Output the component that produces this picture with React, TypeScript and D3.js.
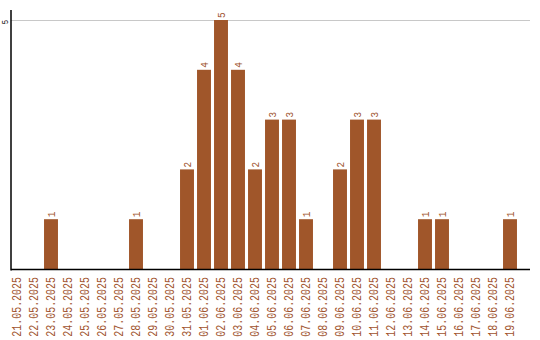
import React from "react";
import * as d3 from "d3";

const dates = [
  "21.05.2025","22.05.2025","23.05.2025","24.05.2025","25.05.2025","26.05.2025",
  "27.05.2025","28.05.2025","29.05.2025","30.05.2025","31.05.2025","01.06.2025",
  "02.06.2025","03.06.2025","04.06.2025","05.06.2025","06.06.2025","07.06.2025",
  "08.06.2025","09.06.2025","10.06.2025","11.06.2025","12.06.2025","13.06.2025",
  "14.06.2025","15.06.2025","16.06.2025","17.06.2025","18.06.2025","19.06.2025",
];
const counts = [0,0,1,0,0,0,0,1,0,0,2,4,5,4,2,3,3,1,0,2,3,3,0,0,1,1,0,0,0,1];
const yTicks = [5];

const W = 540;
const H = 340;
const BAR = "#a0562a";
const TXT = "#a0522d";
const FONT = "'Liberation Mono', monospace";

export default function App() {
  const x = d3
    .scaleBand<string>()
    .domain(dates)
    .range([8.5, 518.5])
    .paddingInner(0.18)
    .paddingOuter(0.09);
  const y = d3.scaleLinear().domain([0, 5]).range([269, 20]);
  const axisX = 11;
  const axisY = 269.5;
  const right = 530;

  return (
    <svg
      width={W}
      height={H}
      style={{ position: "absolute", left: 0, top: 0, background: "#fff" }}
    >
      {yTicks.map((t) => (
        <g key={t}>
          <line x1={axisX} x2={right} y1={y(t) + 0.5} y2={y(t) + 0.5} stroke="#c8c8c8" strokeWidth={1} />
          <text
            transform={`translate(5,${y(t)}) rotate(-90) scale(0.8,1)`}
            textAnchor="end"
            dy="0.35em"
            fontFamily={FONT}
            fontSize={9}
            fill="#000"
          >
            {t}
          </text>
        </g>
      ))}
      {dates.map((d, i) => {
        const v = counts[i];
        const bx = x(d)!;
        const cx = bx + x.bandwidth() / 2;
        return (
          <g key={d}>
            {v > 0 && (
              <rect x={bx} y={y(v)} width={x.bandwidth()} height={y(0) - y(v)} fill={BAR} />
            )}
            {v > 0 && (
              <text
                transform={`translate(${cx},${y(v) - 2}) rotate(-90) scale(0.85,1)`}
                textAnchor="start"
                dy="0.35em"
                fontFamily={FONT}
                fontSize={11}
                fill={TXT}
              >
                {v}
              </text>
            )}
            <text
              transform={`translate(${cx},277) rotate(-90) scale(0.83,1)`}
              textAnchor="end"
              dy="0.35em"
              fontFamily={FONT}
              fontSize={12}
              fill={TXT}
            >
              {d}
            </text>
          </g>
        );
      })}
      <line x1={axisX} x2={axisX} y1={10} y2={axisY + 1} stroke="#000" strokeWidth={1.5} />
      <line x1={axisX} x2={right} y1={axisY} y2={axisY} stroke="#000" strokeWidth={1.5} />
    </svg>
  );
}
